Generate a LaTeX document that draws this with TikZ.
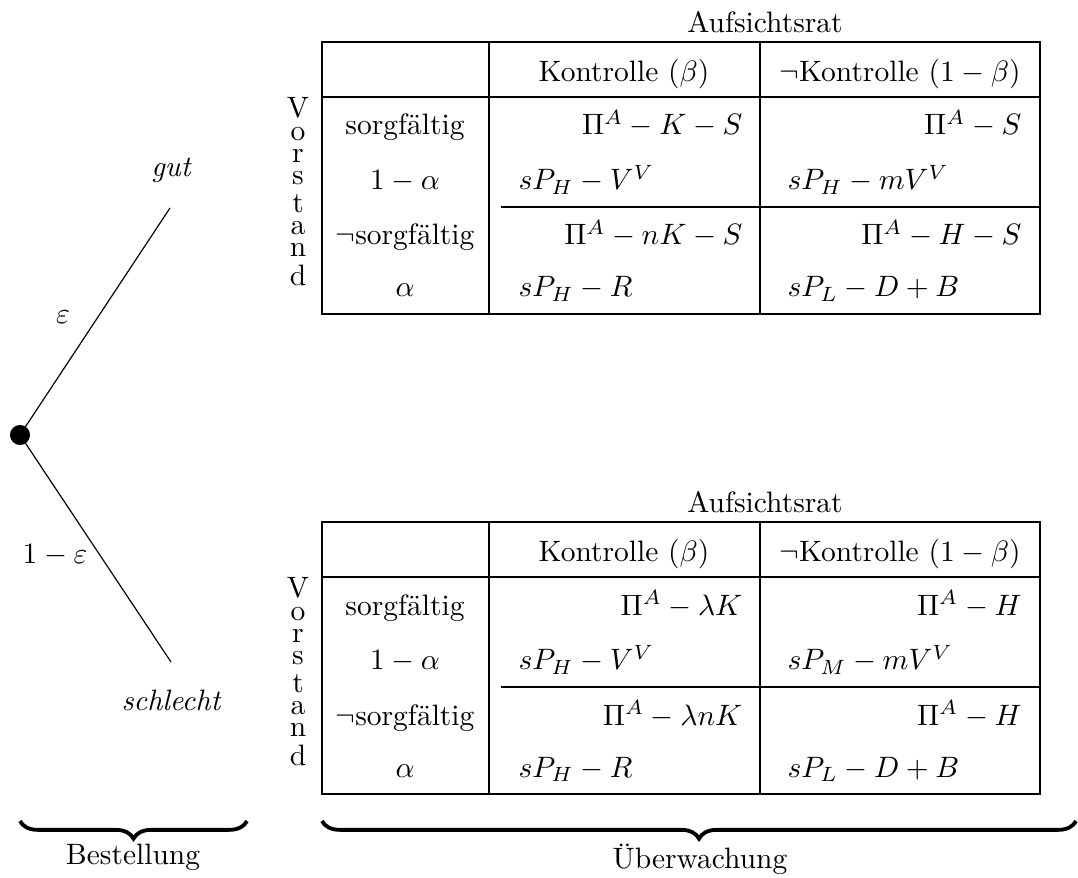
\documentclass[tikz,border=0pt]{standalone}
\usepackage{fontspec}
\usepackage{amsmath}
\usepackage{tikz}
\usetikzlibrary{positioning, decorations.pathreplacing}
\tikzset{
  tabline/.style={line width=0.75pt},
  treeline/.style={line width=0.4pt},
  knot/.style={circle, fill=black, inner sep=0pt, minimum size=6.8pt},
  cellL/.style={anchor=base west, inner sep=0pt},
  cellR/.style={anchor=base east, inner sep=0pt},
  cellC/.style={anchor=base, inner sep=0pt},
  stack/.style={anchor=north, inner sep=0pt},
  underbrace/.style={decorate, decoration={brace, mirror, amplitude=6pt},
                     line width=1.3pt},
}

\begin{document}
\begin{tikzpicture}[x=0.339pt, y=-0.339pt]
    \useasboundingbox (0,0) rectangle (1078,878);

    % Baum: Bestellung
    \node[knot] (root) at (20,435) {};
    \coordinate (gutEnd) at (170,208);
    \coordinate (schlechtEnd) at (171,662);
    \draw[treeline] (root.center) -- (gutEnd);
    \draw[treeline] (root.center) -- (schlechtEnd);
    \node[cellC] (gut) at (171,177) {\itshape gut};
    \node[cellC] (schlecht) at (171,710) {\itshape schlecht};
    \node (eps) at (63,317) {$\varepsilon$};
    \node (epsRest) at (55,555) {$1-\varepsilon$};

    % Tabelle oben (gut)
    \node[cellC] (ratA) at (765,33) {Aufsichtsrat};
    \draw[tabline] (322,42) rectangle (1040,314);
    \draw[tabline] (322,97) -- (1040,97);
    \draw[tabline] (489,42) -- (489,314);
    \draw[tabline] (760,42) -- (760,314);
    \draw[tabline] (501,207) -- (1040,207);
    \node[cellC] (kA) at (624,82) {Kontrolle ($\beta$)};
    \node[cellC] (nkA) at (900,82) {$\neg$Kontrolle ($1-\beta$)};
    \node[stack] (vorA) at (298,97) {\shortstack{V\\o\\r\\s\\t\\a\\n\\d}};
    \node[cellC] (sA) at (405,135) {sorgfältig};
    \node[cellC] (psA) at (405,190) {$1-\alpha$};
    \node[cellC] (nsA) at (405,245) {$\neg$sorgfältig};
    \node[cellC] (pnsA) at (405,297) {$\alpha$};
    \node[cellR] (a11) at (743,135) {$\Pi^A-K-S$};
    \node[cellL] (v11) at (518,190) {$sP_H-V^V$};
    \node[cellR] (a21) at (743,245) {$\Pi^A-nK-S$};
    \node[cellL] (v21) at (518,297) {$sP_H-R$};
    \node[cellR] (a12) at (1022,135) {$\Pi^A-S$};
    \node[cellL] (v12) at (787,190) {$sP_H-mV^V$};
    \node[cellR] (a22) at (1022,245) {$\Pi^A-H-S$};
    \node[cellL] (v22) at (787,297) {$sP_L-D+B$};

    % Tabelle unten (schlecht)
    \begin{scope}[shift={(0,480)}]
    \node[cellC] (ratB) at (765,33) {Aufsichtsrat};
    \draw[tabline] (322,42) rectangle (1040,314);
    \draw[tabline] (322,97) -- (1040,97);
    \draw[tabline] (489,42) -- (489,314);
    \draw[tabline] (760,42) -- (760,314);
    \draw[tabline] (501,207) -- (1040,207);
    \node[cellC] (kB) at (624,82) {Kontrolle ($\beta$)};
    \node[cellC] (nkB) at (900,82) {$\neg$Kontrolle ($1-\beta$)};
    \node[stack] (vorB) at (298,97) {\shortstack{V\\o\\r\\s\\t\\a\\n\\d}};
    \node[cellC] (sB) at (405,135) {sorgfältig};
    \node[cellC] (psB) at (405,190) {$1-\alpha$};
    \node[cellC] (nsB) at (405,245) {$\neg$sorgfältig};
    \node[cellC] (pnsB) at (405,297) {$\alpha$};
    \node[cellR] (b11) at (743,135) {$\Pi^A-\lambda K$};
    \node[cellL] (w11) at (518,190) {$sP_H-V^V$};
    \node[cellR] (b21) at (743,245) {$\Pi^A-\lambda nK$};
    \node[cellL] (w21) at (518,297) {$sP_H-R$};
    \node[cellR] (b12) at (1022,135) {$\Pi^A-H$};
    \node[cellL] (w12) at (787,190) {$sP_M-mV^V$};
    \node[cellR] (b22) at (1022,245) {$\Pi^A-H$};
    \node[cellL] (w22) at (787,297) {$sP_L-D+B$};
    \end{scope}

    % Klammern
    \draw[underbrace] (20,821) -- (247,821);
    \draw[underbrace] (322,821) -- (1076,821);
    \node[cellC] (bestellung) at (133,864) {Bestellung};
    \node[cellC] (ueberwachung) at (700,868) {Überwachung};
\end{tikzpicture}
\end{document}
